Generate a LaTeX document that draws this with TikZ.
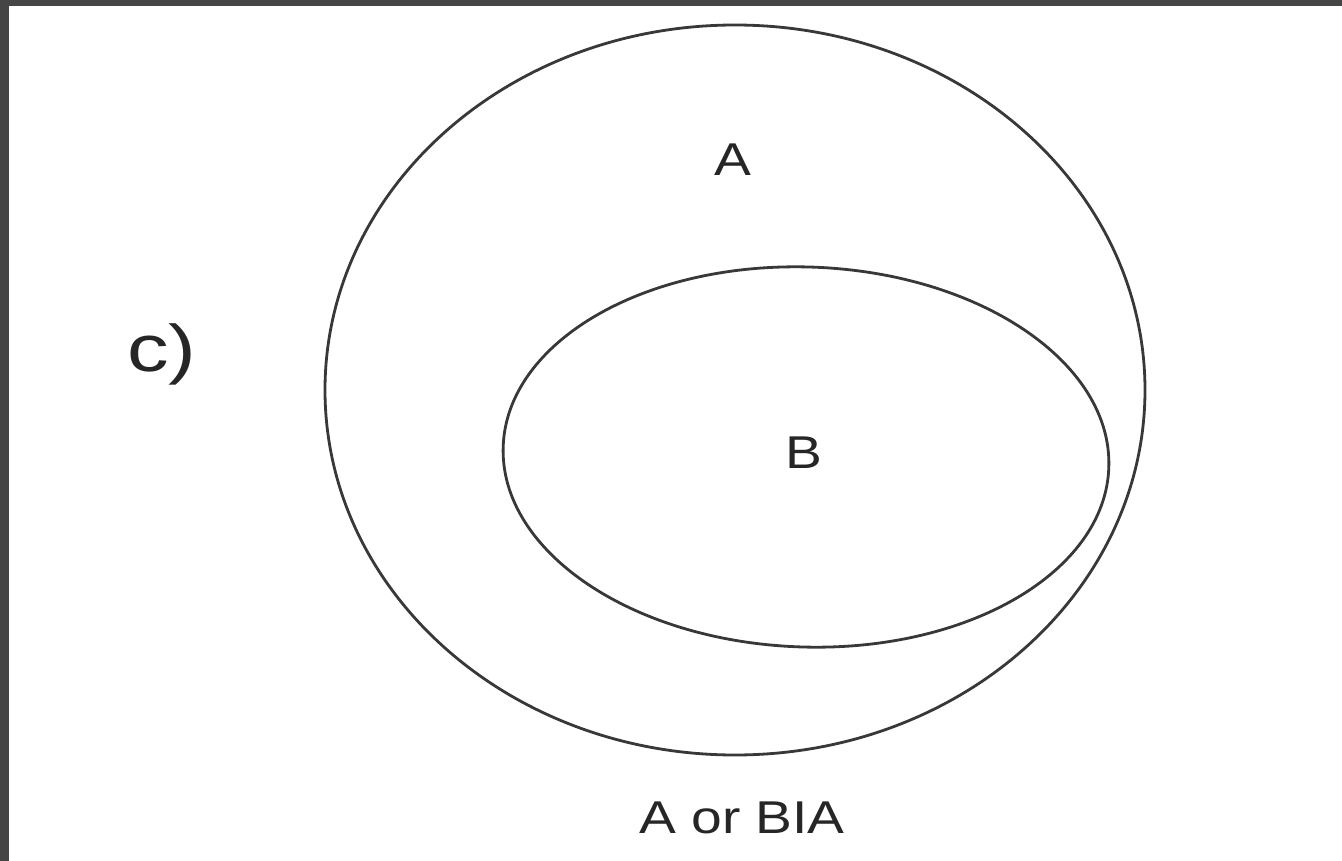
\documentclass[tikz,border=0pt]{standalone}
\usepackage{fontspec}
\setmainfont{Liberation Sans}
\usepackage{tikz}
\def\Wth{2.8pt}
\def\ClrLine{black!78}
\def\ClrFrame{black!73}
\tikzset{
    set ring/.style={
        draw=\ClrLine, line width=\Wth
    },
    set label/.style={
        inner sep=0pt, text=black!85, xscale=1.2,
        font=\fontsize{46}{54}\selectfont
    }
}

\begin{document}
\begin{tikzpicture}[x=1pt, y=-1pt]
    \useasboundingbox (0,0) rectangle (1342,861);
    \fill[white] (0,0) rectangle (1342,861);
    % frame at top and left
    \fill[\ClrFrame] (0,0) rectangle (1342,6);
    \fill[\ClrFrame] (0,0) rectangle (9,861);

    \coordinate (OA) at (735,390);
    \coordinate (OB) at (806,457);

    \draw[set ring] (OA) ellipse [x radius=410, y radius=365];
    \draw[set ring, rotate around={-2:(OB)}] (OB) ellipse [x radius=303, y radius=190];

    \node[set label] (labA) at (733,160) {A};
    \node[set label] (labB) at (804,453) {B};
    \node[set label, xscale=1.05, font=\fontsize{66}{72}\selectfont] (labC) at (162,354) {c)};
    \node[set label] (labCap) at (742,818) {A or BIA};
\end{tikzpicture}
\end{document}
